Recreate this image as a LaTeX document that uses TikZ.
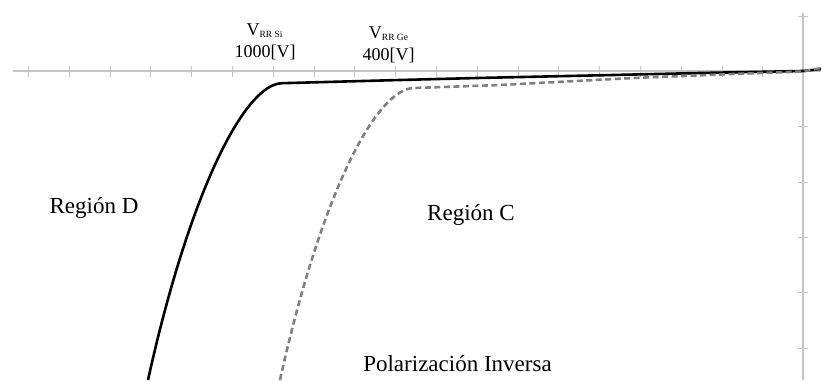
\documentclass[tikz,border=0pt]{standalone}
\usepackage{fontspec}
\setmainfont{Liberation Serif}
\usetikzlibrary{positioning}
\definecolor{axisgray}{RGB}{196,196,196}
\definecolor{gegray}{RGB}{128,128,128}
\tikzset{axisline/.style={draw=axisgray, line width=1.8pt},
  tickmark/.style={draw=axisgray, line width=0.8pt},
  sicurve/.style={draw=black, line width=2.6pt, line join=round},
  gecurve/.style={draw=gegray, line width=2.6pt, dash pattern=on 6pt off 3.5pt},
  label/.style={inner sep=0pt, anchor=base, font=\fontsize{18}{20}\selectfont},
  region/.style={inner sep=0pt, anchor=base, font=\fontsize{23}{26}\selectfont}}
\newcommand{\rrsub}[1]{\raisebox{-2pt}{\fontsize{9.5}{10}\selectfont #1}}

\begin{document}
\begin{tikzpicture}[x=1pt, y=-1pt]
  \useasboundingbox (0,0) rectangle (821,380);
  % axes
  \draw[axisline] (13,71) -- (821,71);
  \draw[axisline] (803,13) -- (803,380);
  \foreach \i in {0,...,18} {
    \draw[tickmark] ({28.3+40.8*\i},66) -- ({28.3+40.8*\i},77);
  }
  \foreach \j in {-1,1,2,3,4,5} {
    \draw[tickmark] (798,{71.5+55.3*\j}) -- (808,{71.5+55.3*\j});
  }
  % Si
  \draw[sicurve] (148,380) .. controls (190,190) and (245,84) .. (282,83.2)
    -- (400,80) -- (477,78) -- (613,75) -- (700,73) -- (803,71) -- (821,69);
  % Ge
  \draw[gecurve] (280,380) .. controls (322,190) and (377,88.5) .. (414,88)
    -- (500,85) -- (633,78) -- (733,74) -- (803,71.5) -- (821,68);
  % labels
  \node[label] (vsi) at (264.5,35) {V\rrsub{RR Si}};
  \node[label] (vsival) at (265,57.7) {1000[V]};
  \node[label] (vge) at (388.5,38) {V\rrsub{RR Ge}};
  \node[label] (vgeval) at (388.5,60) {400[V]};
  \node[region] (regd) at (94,213) {Región D};
  \node[region] (regc) at (471,220) {Región C};
  \node[region] (polinv) at (457.5,371.7) {Polarización Inversa};
\end{tikzpicture}
\end{document}
